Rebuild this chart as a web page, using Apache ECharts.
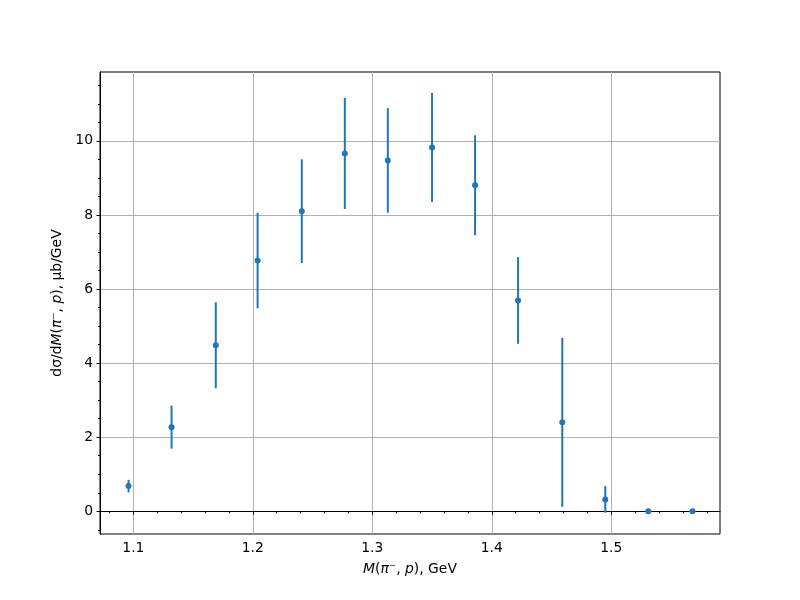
<!DOCTYPE html>
<html><head><meta charset="utf-8">
<script src="https://cdn.jsdelivr.net/npm/echarts@6/dist/echarts.min.js"></script>
<style>html,body{margin:0;padding:0;background:#fff}#c{width:800px;height:600px}</style>
</head><body><div id="c"></div>
<script>
// Data
const massGeV = [1.096, 1.132, 1.169, 1.204, 1.241, 1.277, 1.313, 1.350, 1.386, 1.422, 1.459, 1.495, 1.531, 1.568];
const dsigma = [0.68, 2.27, 4.48, 6.77, 8.10, 9.66, 9.47, 9.82, 8.80, 5.69, 2.40, 0.32, 0.0, 0.0];
const dsigmaErr = [0.17, 0.58, 1.16, 1.29, 1.40, 1.50, 1.41, 1.47, 1.35, 1.17, 2.28, 0.36, 0.0, 0.0];
const xTickValues = [1.1, 1.2, 1.3, 1.4, 1.5];
const xMinorTickValues = [1.08, 1.12, 1.14, 1.16, 1.18, 1.22, 1.24, 1.26, 1.28, 1.32, 1.34, 1.36, 1.38, 1.42, 1.44, 1.46, 1.48, 1.52, 1.54, 1.56, 1.58];
const yTickValues = [0, 2, 4, 6, 8, 10];
const yMinorTickValues = [-0.5, 0.5, 1, 1.5, 2.5, 3, 3.5, 4.5, 5, 5.5, 6.5, 7, 7.5, 8.5, 9, 9.5, 10.5, 11, 11.5];
const xRange = [1.0721, 1.591];
const yRange = [-0.613, 11.857];

const FONT = 'DejaVu Sans';
const FS = 13.9;
const BLUE = '#1f77b4';
const chart = echarts.init(document.getElementById('c'), null, {renderer: 'canvas'});

const nameRich = {
  n: {fontFamily: FONT, fontSize: FS, color: '#000'},
  i: {fontFamily: FONT, fontSize: FS, color: '#000', fontStyle: 'italic'}
};

const majorX = {
  type: 'value', min: xRange[0], max: xRange[1], position: 'bottom',
  name: '{i|M}{n|(}{i|π}{n|⁻, }{i|p}{n|), GeV}',
  nameLocation: 'middle', nameGap: 28,
  nameTextStyle: {rich: nameRich},
  axisLine: {show: true, lineStyle: {color: '#000', width: 1}},
  axisTick: {show: true, inside: false, length: 3.5, lineStyle: {color: '#000', width: 1}, customValues: xTickValues},
  axisLabel: {show: true, margin: 7, fontFamily: FONT, fontSize: FS, color: '#000', customValues: xTickValues,
    formatter: v => Number(v).toFixed(1)},
  splitLine: {show: true, lineStyle: {color: '#b0b0b0', width: 1}},
  minorTick: {show: false}
};
const minorX = {
  type: 'value', min: xRange[0], max: xRange[1], position: 'bottom',
  axisLine: {show: false},
  axisTick: {show: true, inside: false, length: 2, lineStyle: {color: '#000', width: 1}, customValues: xMinorTickValues},
  axisLabel: {show: false},
  splitLine: {show: false}
};
const majorY = {
  type: 'value', min: yRange[0], max: yRange[1], position: 'left',
  name: '{n|dσ/d}{i|M}{n|(}{i|π}{n|⁻, }{i|p}{n|), μb/GeV}',
  nameLocation: 'middle', nameGap: 36, nameRotate: 90,
  nameTextStyle: {rich: nameRich},
  axisLine: {show: true, lineStyle: {color: '#000', width: 1}},
  axisTick: {show: true, inside: false, length: 3.5, lineStyle: {color: '#000', width: 1}, customValues: yTickValues},
  axisLabel: {show: true, margin: 7, fontFamily: FONT, fontSize: FS, color: '#000', customValues: yTickValues,
    formatter: v => String(Math.round(v))},
  splitLine: {show: true, lineStyle: {color: '#b0b0b0', width: 1}},
  minorTick: {show: false}
};
const minorY = {
  type: 'value', min: yRange[0], max: yRange[1], position: 'left',
  axisLine: {show: false},
  axisTick: {show: true, inside: false, length: 2, lineStyle: {color: '#000', width: 1}, customValues: yMinorTickValues},
  axisLabel: {show: false},
  splitLine: {show: false}
};

const points = massGeV.map((x, i) => [x, dsigma[i], dsigmaErr[i]]);

chart.setOption({
  animation: false,
  backgroundColor: '#fff',
  grid: {left: 100, right: 80, top: 72, bottom: 66, show: true, borderColor: '#000', borderWidth: 1, backgroundColor: 'transparent'},
  xAxis: [majorX, minorX],
  yAxis: [majorY, minorY],
  series: [
    {
      type: 'custom', xAxisIndex: 0, yAxisIndex: 0, data: points,
      encode: {x: 0, y: 1},
      renderItem: (params, api) => {
        const x = api.value(0), y = api.value(1), e = api.value(2);
        const p1 = api.coord([x, y - e]);
        const p2 = api.coord([x, y + e]);
        return {type: 'line', shape: {x1: p1[0], y1: p1[1], x2: p2[0], y2: p2[1]},
          style: {stroke: BLUE, lineWidth: 2, opacity: 1}};
      },
      z: 3
    },
    {
      type: 'scatter', xAxisIndex: 0, yAxisIndex: 0,
      data: points.map(p => [p[0], p[1]]),
      symbol: 'circle', symbolSize: 6,
      itemStyle: {color: BLUE, opacity: 1},
      z: 4
    }
  ]
});
</script></body></html>
